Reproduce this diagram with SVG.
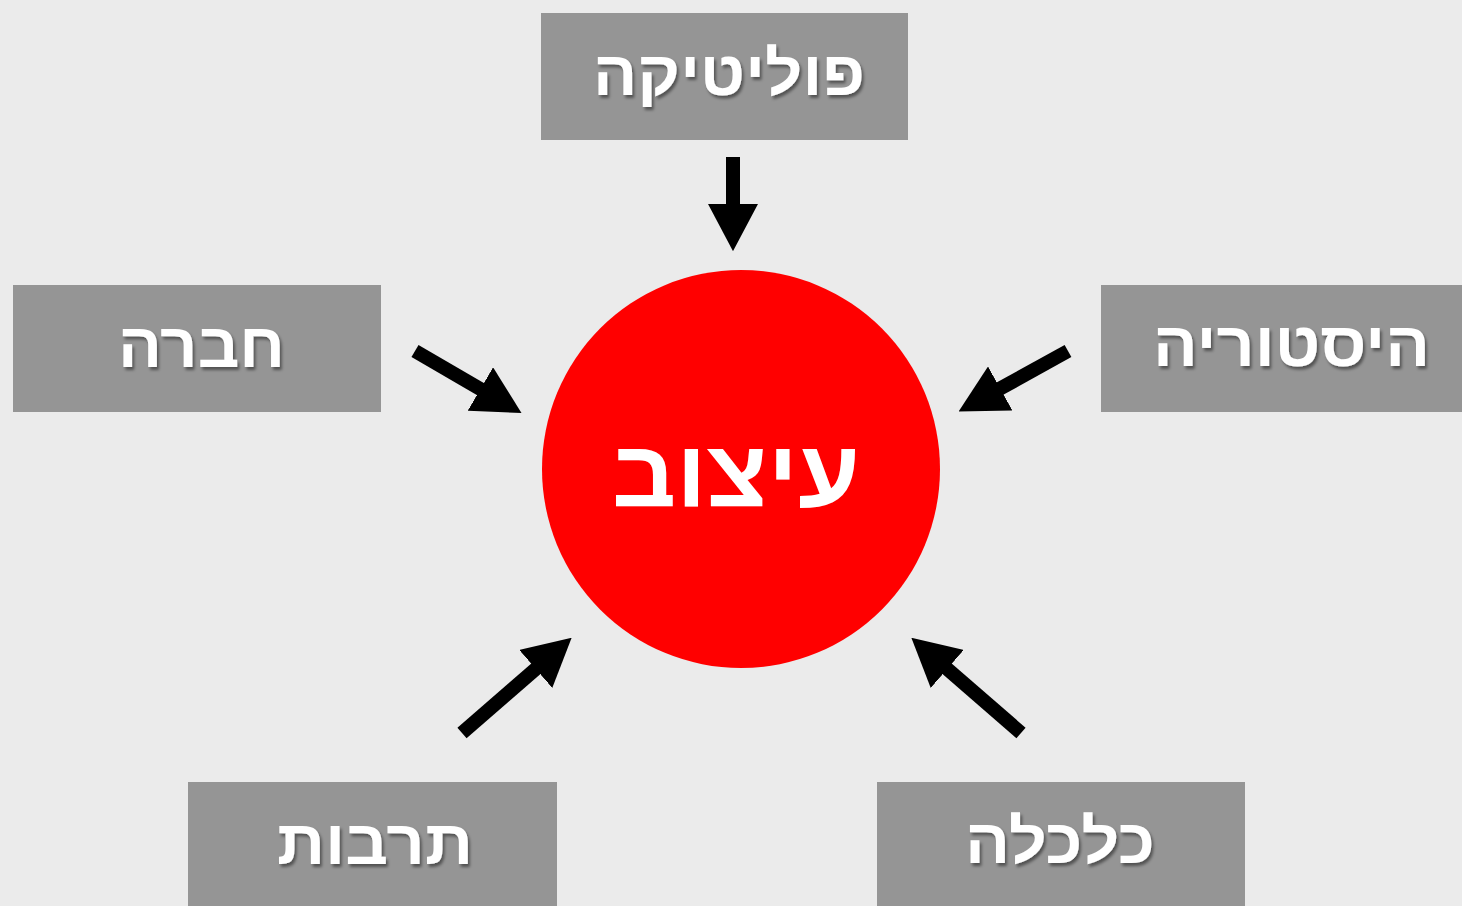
<svg xmlns="http://www.w3.org/2000/svg" width="1462" height="906" viewBox="0 0 1462 906">
<style>
.box{fill:#959595;}
.lbl{font-family:"Liberation Sans","DejaVu Sans",sans-serif;font-weight:bold;font-size:62px;fill:#ffffff;text-anchor:middle;filter:url(#sh);}
.core{font-family:"Liberation Sans","DejaVu Sans",sans-serif;font-weight:bold;font-size:95px;fill:#ffffff;text-anchor:middle;}
.arr{stroke:#000;stroke-width:14;fill:none;marker-end:url(#ah);}
</style>
<defs>
<filter id="sh" x="-10%" y="-20%" width="120%" height="150%">
<feDropShadow dx="2" dy="3" stdDeviation="1.5" flood-color="#000" flood-opacity="0.45"/>
</filter>
<marker id="ah" viewBox="0 0 10 10" refX="0.3" refY="5" markerUnits="strokeWidth" markerWidth="3.4" markerHeight="3.6" orient="auto" preserveAspectRatio="none">
<path d="M0,0 L10,5 L0,10 z" fill="#000"/>
</marker>
</defs>
<rect width="1462" height="906" fill="#ebebeb"/>
<g id="connectors">
<line class="arr" x1="733" y1="157" x2="733" y2="205"/>
<line class="arr" x1="415" y1="351" x2="481.6" y2="389.8"/>
<line class="arr" x1="1068" y1="351" x2="999" y2="389.2"/>
<line class="arr" x1="462" y1="733" x2="536.8" y2="668"/>
<line class="arr" x1="1021" y1="733" x2="946.2" y2="668"/>
</g>
<g id="node-center">
<circle cx="741" cy="469" r="199" fill="#ff0000"/>
<text class="core" x="736" y="507" textLength="248" lengthAdjust="spacingAndGlyphs">עיצוב</text>
</g>
<g id="node-politics">
<rect class="box" x="541" y="13" width="367" height="127"/>
<text class="lbl" x="729" y="95" textLength="272" lengthAdjust="spacingAndGlyphs">פוליטיקה</text>
</g>
<g id="node-society">
<rect class="box" x="13" y="285" width="368" height="127"/>
<text class="lbl" x="201.5" y="367" textLength="167" lengthAdjust="spacingAndGlyphs">חברה</text>
</g>
<g id="node-history">
<rect class="box" x="1101" y="285" width="361" height="127"/>
<text class="lbl" x="1291.5" y="366" textLength="277" lengthAdjust="spacingAndGlyphs">היסטוריה</text>
</g>
<g id="node-culture">
<rect class="box" x="188" y="782" width="369" height="124"/>
<text class="lbl" x="375" y="864" textLength="196" lengthAdjust="spacingAndGlyphs">תרבות</text>
</g>
<g id="node-economy">
<rect class="box" x="877" y="782" width="368" height="124"/>
<text class="lbl" x="1060" y="863" textLength="190" lengthAdjust="spacingAndGlyphs">כלכלה</text>
</g>
</svg>
